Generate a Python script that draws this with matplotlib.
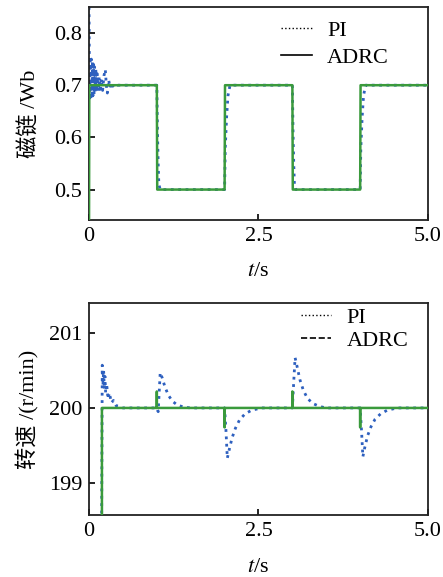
import matplotlib
matplotlib.use('Agg')
import matplotlib.pyplot as plt
from matplotlib.lines import Line2D

plt.rcParams['font.family'] = ['Liberation Serif', 'Noto Sans CJK SC']
plt.rcParams['mathtext.fontset'] = 'stix'
plt.rcParams['font.size'] = 16

GREEN = '#3a9a3c'
BLUE = '#2e60bf'

# flux (Wb), ADRC
flux_adrc_t = [0.0, 0.004, 1.0, 1.006, 2.0, 2.006, 3.0, 3.006, 4.0, 4.006, 5.0]
flux_adrc = [0.442, 0.70, 0.70, 0.50, 0.50, 0.70, 0.70, 0.50, 0.50, 0.70, 0.70]

# flux (Wb), PI
flux_pi_t = [0.0, 0.004, 0.010, 0.018, 0.026, 0.034, 0.042, 0.050, 0.058, 0.066,
             0.074, 0.082, 0.090, 0.100, 0.110, 0.120, 0.135, 0.150, 0.165, 0.180,
             0.200, 0.220, 0.240, 0.255, 0.270, 0.290, 0.310, 0.330, 0.350, 0.380,
             0.420, 1.000, 1.010, 1.020, 1.030, 1.050, 2.000, 2.010, 2.030, 2.050,
             2.080, 3.000, 3.010, 3.020, 3.030, 3.050, 4.000, 4.010, 4.030, 4.050,
             4.080, 5.000]
flux_pi = [0.85, 0.76, 0.67, 0.755, 0.672, 0.75, 0.675, 0.745, 0.68, 0.74,
           0.682, 0.735, 0.685, 0.73, 0.69, 0.722, 0.688, 0.715, 0.692, 0.712,
           0.69, 0.718, 0.73, 0.70, 0.685, 0.71, 0.695, 0.705, 0.698, 0.702,
           0.70, 0.70, 0.61, 0.55, 0.51, 0.50, 0.50, 0.58, 0.64, 0.68,
           0.70, 0.70, 0.61, 0.55, 0.51, 0.50, 0.50, 0.58, 0.64, 0.68,
           0.70, 0.70]

# speed (r/min), ADRC
speed_adrc_t = [0.19, 0.19, 0.999, 1.0, 1.001, 1.999, 2.0, 2.001, 2.999, 3.0, 3.001,
                3.999, 4.0, 4.001, 5.0]
speed_adrc = [198.3, 200.0, 200.0, 200.22, 200.0, 200.0, 199.74, 200.0, 200.0, 200.22,
              200.0, 200.0, 199.74, 200.0, 200.0]

# speed (r/min), PI
speed_pi_t = [0.185, 0.195, 0.205, 0.215, 0.225, 0.235, 0.245, 0.26, 0.28, 0.30,
              0.33, 0.36, 0.40, 0.45, 0.50, 1.00, 1.02, 1.05, 1.08, 1.12,
              1.17, 1.23, 1.30, 1.40, 1.50, 2.00, 2.02, 2.04, 2.07, 2.11,
              2.16, 2.22, 2.30, 2.40, 2.55, 3.00, 3.02, 3.04, 3.07, 3.11,
              3.16, 3.22, 3.30, 3.40, 3.50, 4.00, 4.02, 4.04, 4.07, 4.11,
              4.16, 4.22, 4.30, 4.40, 4.55, 5.00]
speed_pi = [198.3, 200.57, 200.3, 200.5, 200.25, 200.42, 200.2, 200.32, 200.12, 200.2,
            200.07, 200.1, 200.03, 200.02, 200.0, 200.0, 199.95, 200.47, 200.4, 200.28,
            200.17, 200.09, 200.04, 200.01, 200.0, 200.0, 199.7, 199.33, 199.45, 199.6,
            199.73, 199.84, 199.92, 199.97, 200.0, 200.0, 200.35, 200.67, 200.55, 200.38,
            200.24, 200.13, 200.06, 200.02, 200.0, 200.0, 199.7, 199.35, 199.48, 199.63,
            199.75, 199.85, 199.92, 199.97, 200.0, 200.0]

fig = plt.figure(figsize=(4.43, 5.77), dpi=100)
ax1 = fig.add_axes([0.201, 0.619, 0.765, 0.369])
ax2 = fig.add_axes([0.201, 0.1075, 0.765, 0.3675])

ax1.plot(flux_pi_t, flux_pi, ':', color=BLUE, lw=2.0, zorder=2)
ax1.plot(flux_adrc_t, flux_adrc, '-', color=GREEN, lw=1.8, zorder=3)
ax1.set_xlim(0, 5)
ax1.set_ylim(0.442, 0.85)
ax1.set_yticks([0.5, 0.6, 0.7, 0.8])
ax1.set_ylabel('磁链 /Wb', labelpad=10)
h1 = [Line2D([], [], ls=':', color='k', lw=1.0), Line2D([], [], ls='-', color='k', lw=1.2)]
ax1.legend(h1, ['PI', 'ADRC'], loc='upper left', bbox_to_anchor=(0.565, 0.937),
           frameon=False, handlelength=1.4, handletextpad=0.7, borderpad=0,
           borderaxespad=0, labelspacing=0.3)

ax2.plot(speed_pi_t, speed_pi, ':', color=BLUE, lw=2.0, zorder=2)
ax2.plot(speed_adrc_t, speed_adrc, '-', color=GREEN, lw=1.8, zorder=3)
ax2.set_xlim(0, 5)
ax2.set_ylim(198.573, 201.4)
ax2.set_yticks([199, 200, 201])
ax2.set_ylabel('转速 /(r/min)', labelpad=7)
h2 = [Line2D([], [], ls=':', color='k', lw=1.0), Line2D([], [], ls='--', color='k', lw=1.2)]
ax2.legend(h2, ['PI', 'ADRC'], loc='upper left', bbox_to_anchor=(0.625, 0.98),
           frameon=False, handlelength=1.35, handletextpad=0.7, borderpad=0,
           borderaxespad=0, labelspacing=0.12)

for ax in (ax1, ax2):
    ax.set_xticks([0, 2.5, 5.0])
    ax.set_xticklabels(['0', '2.5', '5.0'])
    ax.set_xlabel(r'$t$/s', labelpad=12)
    ax.tick_params(direction='in', length=4, width=1.2, top=False, right=False, pad=5)
    for s in ax.spines.values():
        s.set_linewidth(1.3)
        s.set_color('#222222')

plt.savefig('out.png', dpi=100)
